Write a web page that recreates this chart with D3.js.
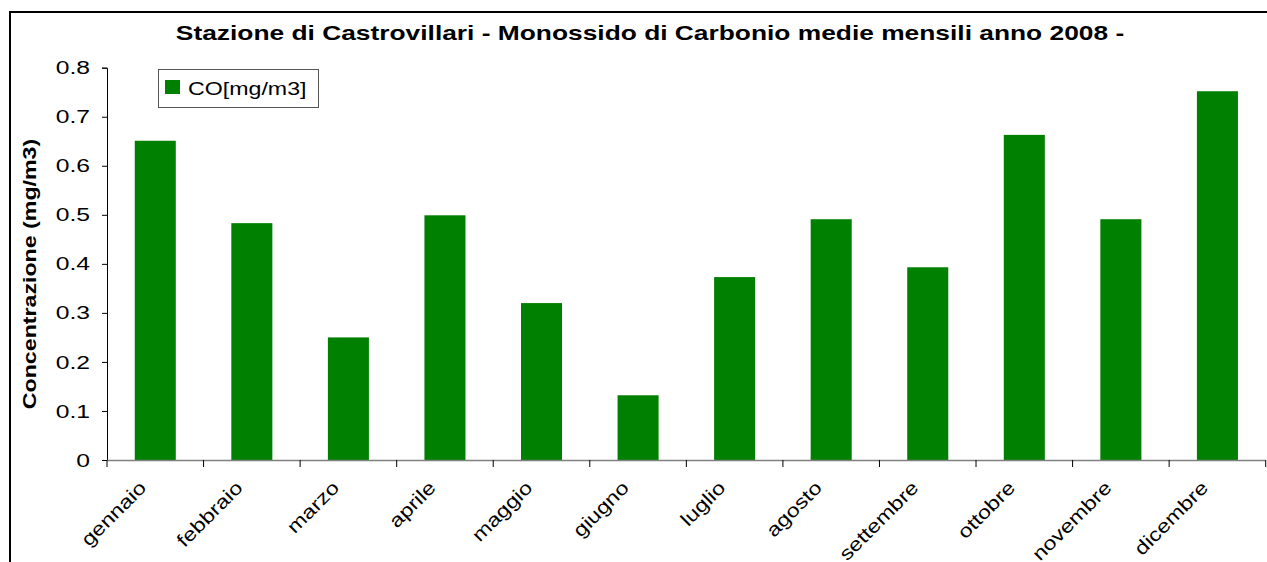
<!DOCTYPE html>
<html>
<head>
<meta charset="utf-8">
<script src="https://cdn.jsdelivr.net/npm/d3@7"></script>
<style>
  body { margin: 0; background: #fff; }
  svg { display: block; font-family: "Liberation Sans", Arial, sans-serif; }
</style>
</head>
<body>
<div id="chart"></div>
<script>
var months = ['gennaio', 'febbraio', 'marzo', 'aprile', 'maggio', 'giugno',
              'luglio', 'agosto', 'settembre', 'ottobre', 'novembre', 'dicembre'];
var coValues = [0.651, 0.483, 0.250, 0.499, 0.320, 0.132,
                0.373, 0.491, 0.393, 0.663, 0.491, 0.752];
var yTicks = [0, 0.1, 0.2, 0.3, 0.4, 0.5, 0.6, 0.7, 0.8];
var seriesName = 'CO[mg/m3]';
var chartTitle = 'Stazione di Castrovillari - Monossido di Carbonio medie mensili anno 2008 -';
var yTitle = 'Concentrazione (mg/m3)';

var W = 1267, H = 562;
var BAR_COLOR = '#008000';
// the original text is drawn wider than Liberation Sans, stretch it a bit
var STRETCH = 1.22;

var svg = d3.select('#chart').append('svg')
    .attr('width', W)
    .attr('height', H);

// outer frame (cut off on the right and bottom)
svg.append('rect')
    .attr('x', 10).attr('y', 12)
    .attr('width', W + 20).attr('height', H + 20)
    .attr('fill', 'none')
    .attr('stroke', '#000')
    .attr('stroke-width', 2);

var x = d3.scaleBand()
    .domain(months)
    .range([107, 1265.7])
    .paddingInner(0.575)
    .paddingOuter(0.2875);

var y = d3.scaleLinear()
    .domain([0, 0.8])
    .range([460, 67.7]);

// title
svg.append('text')
    .attr('transform', 'translate(650,40) scale(1.255,1)')
    .attr('text-anchor', 'middle')
    .attr('font-size', 21)
    .attr('font-weight', 'bold')
    .text(chartTitle);

// bars
svg.append('g').selectAll('rect')
    .data(coValues)
    .enter().append('rect')
    .attr('x', function(d, i) { return x(months[i]); })
    .attr('y', function(d) { return y(d); })
    .attr('width', x.bandwidth())
    .attr('height', function(d) { return y(0) - y(d); })
    .attr('fill', BAR_COLOR);

// y axis
var yAxis = svg.append('g')
    .attr('transform', 'translate(107,0)')
    .call(d3.axisLeft(y).tickValues(yTicks).tickSize(5)
          .tickFormat(function(d) { return d === 0 ? '0' : d3.format('.1f')(d); }));
yAxis.select('.domain').attr('stroke', '#000').attr('stroke-width', 1);
yAxis.selectAll('.tick line').attr('stroke', '#000');
yAxis.selectAll('text')
    .attr('x', 0)
    .attr('transform', 'translate(-17,0) scale(1.3,1)')
    .attr('font-size', 19)
    .attr('font-family', '"Liberation Sans", Arial, sans-serif')
    .attr('fill', '#000');

// x axis: ticks at band boundaries
var xg = svg.append('g');
xg.append('line')
    .attr('x1', 107).attr('x2', 1265.7)
    .attr('y1', 460.5).attr('y2', 460.5)
    .attr('stroke', '#808080')
    .attr('stroke-width', 1.5);
var bounds = months.map(function(m) { return x(m) - x.step() * x.paddingOuter(); });
bounds.push(1265.7);
xg.selectAll('line.tk')
    .data(bounds)
    .enter().append('line')
    .attr('class', 'tk')
    .attr('x1', function(d) { return d; })
    .attr('x2', function(d) { return d; })
    .attr('y1', 460).attr('y2', 467)
    .attr('stroke', '#000');

xg.selectAll('text')
    .data(months)
    .enter().append('text')
    .attr('transform', function(d) {
        return 'translate(' + (x(d) + x.bandwidth() / 2 - 8) + ',489) rotate(-45) scale(' + STRETCH + ',1)';
    })
    .attr('text-anchor', 'end')
    .attr('font-size', 19)
    .text(function(d) { return d; });

// y title
svg.append('text')
    .attr('transform', 'translate(36,274) rotate(-90) scale(' + STRETCH + ',1)')
    .attr('text-anchor', 'middle')
    .attr('font-size', 19)
    .attr('font-weight', 'bold')
    .text(yTitle);

// legend
var lg = svg.append('g');
lg.append('rect')
    .attr('x', 158.5).attr('y', 69.5)
    .attr('width', 160).attr('height', 38)
    .attr('fill', '#fff')
    .attr('stroke', '#555')
    .attr('stroke-width', 1);
lg.append('rect')
    .attr('x', 165).attr('y', 80)
    .attr('width', 15).attr('height', 14)
    .attr('fill', BAR_COLOR);
lg.append('text')
    .attr('transform', 'translate(188,95) scale(' + STRETCH + ',1)')
    .attr('font-size', 19)
    .text(seriesName);
</script>
</body>
</html>
